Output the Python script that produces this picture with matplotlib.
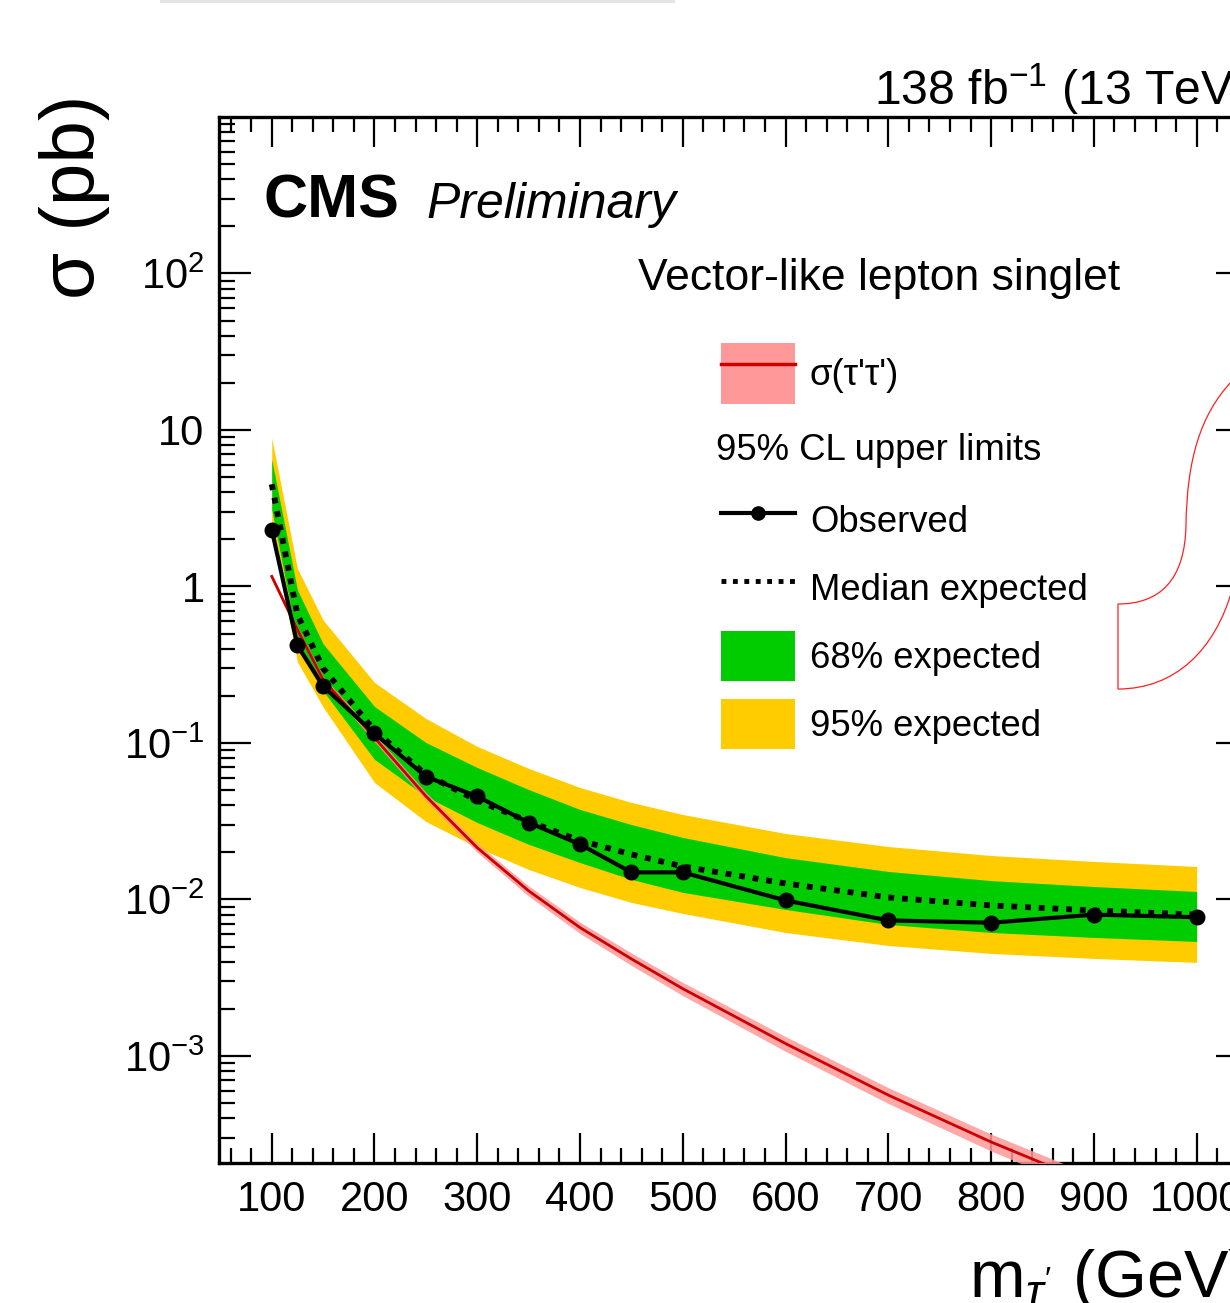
import matplotlib
matplotlib.use('Agg')
import matplotlib.pyplot as plt
from matplotlib.patches import Patch, PathPatch, Rectangle
from matplotlib.lines import Line2D
from matplotlib.path import Path
from matplotlib.ticker import FixedLocator, LogLocator, NullFormatter, MultipleLocator, FixedFormatter

plt.rcParams['font.family'] = ['Liberation Sans', 'DejaVu Sans']
plt.rcParams['mathtext.fontset'] = 'custom'
plt.rcParams['mathtext.rm'] = 'Liberation Sans'
plt.rcParams['mathtext.it'] = 'Liberation Sans:italic'
plt.rcParams['mathtext.bf'] = 'Liberation Sans:bold'

# ---------------- data ----------------
mass = [100, 125, 150, 200, 250, 300, 350, 400, 450, 500, 600, 700, 800, 900, 1000]
observed = [2.31, 0.42, 0.23, 0.115, 0.061, 0.0455, 0.031, 0.0225, 0.0149, 0.0149,
            0.00986, 0.00735, 0.0071, 0.0080, 0.0077]
expected = [4.5, 0.66, 0.30, 0.120, 0.0629, 0.0429, 0.0315, 0.0238, 0.0194, 0.01625,
            0.01265, 0.0103, 0.00916, 0.0085, 0.0080]
exp_p1 = [6.5, 0.95, 0.43, 0.171, 0.1007, 0.0697, 0.0504, 0.0376, 0.0301, 0.0249,
          0.0185, 0.0151, 0.0132, 0.0121, 0.01125]
exp_m1 = [3.1, 0.45, 0.215, 0.0785, 0.0455, 0.0310, 0.0225, 0.0172, 0.01343, 0.0111,
          0.00863, 0.00692, 0.00615, 0.00572, 0.00539]
exp_p2 = [8.9, 1.30, 0.61, 0.2436, 0.1434, 0.0950, 0.0688, 0.0519, 0.0417, 0.0349,
          0.0264, 0.0218, 0.0191, 0.0175, 0.01625]
exp_m2 = [2.35, 0.33, 0.17, 0.0559, 0.0315, 0.0215, 0.01555, 0.01193, 0.00957, 0.00814,
          0.00615, 0.00508, 0.00452, 0.00420, 0.00396]

theory_mass = [100, 125, 150, 175, 200, 250, 300, 350, 400, 450, 500, 600, 700, 800, 900, 1000]
theory_xs = [1.16, 0.53, 0.254, 0.166, 0.108, 0.0457, 0.0214, 0.01135, 0.00661, 0.00417,
             0.00269, 0.00120, 0.000562, 0.000282, 0.000151, 0.0000851]
theory_hi = [1.21, 0.555, 0.267, 0.175, 0.114, 0.0484, 0.0228, 0.0122, 0.00716, 0.00455,
             0.00295, 0.00133, 0.000627, 0.000317, 0.000171, 0.0000970]
theory_lo = [1.11, 0.505, 0.241, 0.157, 0.102, 0.0430, 0.0200, 0.01050, 0.00606, 0.00379,
             0.00243, 0.00107, 0.000497, 0.000247, 0.000131, 0.0000732]

xtick_vals = [100, 200, 300, 400, 500, 600, 700, 800, 900, 1000]
ytick_vals = [1e-3, 1e-2, 1e-1, 1, 10, 100]
ytick_labels = [r'$10^{-3}$', r'$10^{-2}$', r'$10^{-1}$', '1', '10', r'$10^{2}$']

# ---------------- figure ----------------
W, H = 1230, 1303
fig = plt.figure(figsize=(W / 100, H / 100), dpi=100)
ax_l, ax_r, ax_t, ax_b = 218.5, 1248.0, 117.0, 1163.0
ax = fig.add_axes([ax_l / W, 1 - ax_b / H, (ax_r - ax_l) / W, (ax_b - ax_t) / H])

YELLOW = '#ffcc00'
GREEN = '#00cc00'

ax.fill_between(mass, exp_m2, exp_p2, color=YELLOW, lw=0, zorder=1)
ax.fill_between(mass, exp_m1, exp_p1, color=GREEN, lw=0, zorder=2)
ax.fill_between(theory_mass, theory_lo, theory_hi, color='#ff9999', lw=0, alpha=0.85, zorder=3)
ax.plot(theory_mass, theory_xs, color='#cc0000', lw=2.0, zorder=4)
ax.plot(mass, expected, color='black', lw=4.2, linestyle=(0, (1, 1.35)), zorder=5)
ax.plot(mass, observed, color='black', lw=3.0, marker='o', ms=10.5, zorder=6)

ax.set_yscale('log')
ax.set_xlim(48.2, 1050)
ax.set_ylim(2.07e-4, 1000)

ax.xaxis.set_major_locator(FixedLocator(xtick_vals))
ax.xaxis.set_major_formatter(FixedFormatter([str(v) for v in xtick_vals]))
ax.xaxis.set_minor_locator(MultipleLocator(20))
ax.yaxis.set_major_locator(FixedLocator(ytick_vals))
ax.yaxis.set_major_formatter(FixedFormatter(ytick_labels))
ax.yaxis.set_minor_locator(LogLocator(base=10, subs=[2, 3, 4, 5, 6, 7, 8, 9], numticks=20))
ax.yaxis.set_minor_formatter(NullFormatter())

ax.tick_params(which='both', direction='in', top=True, right=True, labelsize=30, width=1.6)
ax.tick_params(axis='x', which='major', length=21.5, pad=12)
ax.tick_params(axis='x', which='minor', length=11)
ax.tick_params(axis='y', which='major', length=23, pad=10)
ax.tick_params(axis='y', which='minor', length=11.5)
for s in ax.spines.values():
    s.set_linewidth(2.4)

# ---------------- texts ----------------
def fx(px):
    return px / W

def fy(py):
    return 1 - py / H

fig.text(fx(263), fy(218), 'CMS', fontsize=44, fontweight='bold', va='baseline')
fig.text(fx(426), fy(218), 'Preliminary', fontsize=36, fontstyle='italic', va='baseline')
fig.text(fx(638), fy(290), 'Vector-like lepton singlet', fontsize=32, va='baseline')
fig.text(fx(ax_r), fy(105), r'138 fb$^{-1}$ (13 TeV)', fontsize=34.7, ha='right', va='baseline')
fig.text(fx(ax_r), fy(1297), r"m$_{\tau'}$ (GeV)", fontsize=48, ha='right', va='baseline')
fig.text(fx(75), fy(95), 'σ (pb)', fontsize=55, rotation=90, ha='center', va='top')

# ---------------- legend ----------------
def ax_frac(px, py):
    return ((px - ax_l) / (ax_r - ax_l), (ax_b - py) / (ax_b - ax_t))

fs_leg = 26.3
h_theory = (Patch(facecolor='#ff9999', edgecolor='none'),
            Line2D([], [], color='#cc0000', lw=2.5))
leg1 = ax.legend([h_theory], ["σ(τ'τ')"], loc='upper left',
                 bbox_to_anchor=ax_frac(721, 343), frameon=False, fontsize=fs_leg,
                 handlelength=2.03, handleheight=2.19, handletextpad=0.4,
                 borderpad=0, borderaxespad=0)
ax.add_artist(leg1)

ax.text(*ax_frac(716, 451), '95% CL upper limits', transform=ax.transAxes,
        fontsize=fs_leg, va='center', ha='left')

handles = [Line2D([], [], color='black', lw=3.0, marker='o', ms=9.5),
           Line2D([], [], color='black', lw=3.5, linestyle=(0, (1, 1.35))),
           Patch(facecolor=GREEN, edgecolor='none'),
           Patch(facecolor=YELLOW, edgecolor='none')]
labels = ['Observed', 'Median expected', '68% expected', '95% expected']
leg2 = ax.legend(handles, labels, loc='upper left', bbox_to_anchor=ax_frac(721, 495),
                 frameon=False, fontsize=fs_leg, handlelength=2.03, handleheight=1.73,
                 handletextpad=0.4, labelspacing=0.49, borderpad=0, borderaxespad=0)

# ---------------- decorative fragments ----------------
def P(px, py):
    return (fx(px), fy(py))

verts = [P(1232, 381), P(1200, 415), P(1187, 460), P(1186, 525),
         P(1185, 580), P(1160, 604), P(1118, 604),
         P(1118, 689),
         P(1175, 689), P(1215, 650), P(1232, 590)]
codes = [Path.MOVETO, Path.CURVE4, Path.CURVE4, Path.CURVE4,
         Path.CURVE4, Path.CURVE4, Path.CURVE4,
         Path.LINETO,
         Path.CURVE4, Path.CURVE4, Path.CURVE4]
fig.patches.append(PathPatch(Path(verts, codes), transform=fig.transFigure,
                             facecolor='none', edgecolor='#ff2020', lw=0.9))
fig.patches.append(Rectangle(P(160, 3), (675 - 160) / W, 3 / H, transform=fig.transFigure,
                             facecolor='#e4e4e4', edgecolor='none'))

fig.savefig('out.png', dpi=100)
